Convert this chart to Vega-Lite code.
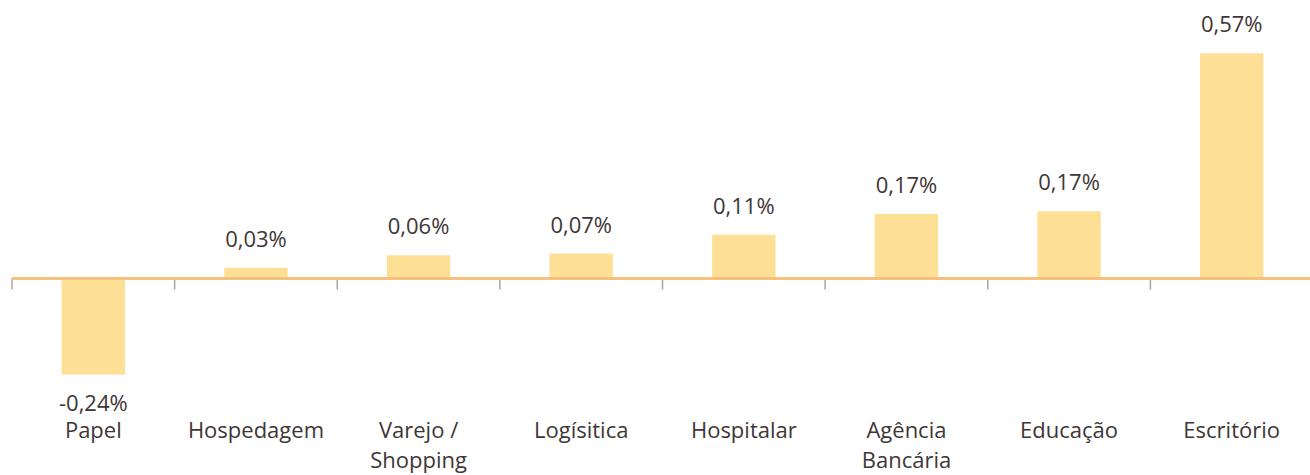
{
  "$schema": "https://vega.github.io/schema/vega-lite/v6.json",
  "autosize": {"type": "none"},
  "padding": {"left": 12, "top": 2, "right": 0, "bottom": 78},
  "width": 1301,
  "height": 395,
  "background": "white",
  "config": {"view": {"stroke": null}, "font": "Open Sans"},
  "data": {"values": [
    {"setor": "Papel", "valor": -0.243, "rotulo": "-0,24%"},
    {"setor": "Hospedagem", "valor": 0.027, "rotulo": "0,03%"},
    {"setor": "Varejo / Shopping", "valor": 0.059, "rotulo": "0,06%"},
    {"setor": "Logísitica", "valor": 0.063, "rotulo": "0,07%"},
    {"setor": "Hospitalar", "valor": 0.111, "rotulo": "0,11%"},
    {"setor": "Agência Bancária", "valor": 0.163, "rotulo": "0,17%"},
    {"setor": "Educação", "valor": 0.17, "rotulo": "0,17%"},
    {"setor": "Escritório", "valor": 0.57, "rotulo": "0,57%"}
  ]},
  "encoding": {
    "x": {
      "field": "setor", "type": "nominal", "sort": null,
      "scale": {"paddingInner": 0, "paddingOuter": 0},
      "axis": {
        "title": null, "domain": false, "ticks": false, "labelAngle": 0,
        "labelFont": "Open Sans", "labelFontSize": 22, "labelColor": "#403636",
        "labelPadding": 23, "labelBaseline": "top", "labelLineHeight": 30,
        "labelLimit": 0,
        "labelExpr": "datum.value == 'Varejo / Shopping' ? ['Varejo /', 'Shopping'] : datum.value == 'Agência Bancária' ? ['Agência', 'Bancária'] : datum.value"
      }
    }
  },
  "layer": [
    {
      "mark": {"type": "bar", "color": "#FEDF96", "width": {"band": 0.39}},
      "encoding": {
        "y": {"field": "valor", "type": "quantitative", "scale": {"domain": [-0.3, 0.7], "nice": false, "zero": false}, "axis": null}
      }
    },
    {
      "mark": {"type": "rule", "color": "#A6A6A6", "strokeWidth": 1.5},
      "encoding": {
        "x": {"field": "setor", "type": "nominal", "sort": null, "bandPosition": 0},
        "y": {"datum": 0},
        "y2": {"datum": -0.028}
      }
    },
    {
      "mark": {"type": "rule", "color": "#F5BF7E", "strokeWidth": 2},
      "encoding": {
        "x": {"value": 0},
        "x2": {"value": 1301},
        "y": {"datum": 0}
      }
    },
    {
      "transform": [{"filter": "datum.valor >= 0"}],
      "mark": {"type": "text", "font": "Open Sans", "fontSize": 22, "color": "#403636", "baseline": "middle", "dy": -28},
      "encoding": {
        "y": {"field": "valor", "type": "quantitative"},
        "text": {"field": "rotulo"}
      }
    },
    {
      "transform": [{"filter": "datum.valor < 0"}],
      "mark": {"type": "text", "font": "Open Sans", "fontSize": 22, "color": "#403636", "baseline": "middle", "dy": 30},
      "encoding": {
        "y": {"field": "valor", "type": "quantitative"},
        "text": {"field": "rotulo"}
      }
    }
  ]
}
